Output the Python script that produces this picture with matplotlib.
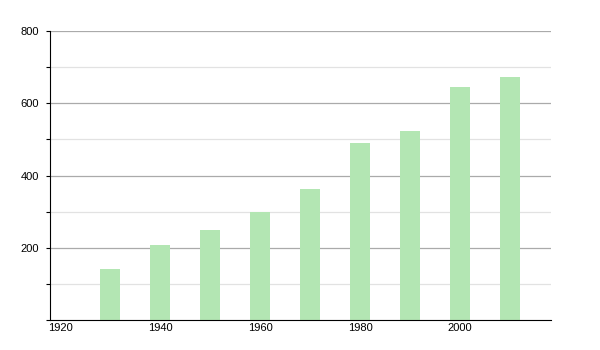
import matplotlib
matplotlib.use("Agg")
import matplotlib.pyplot as plt
from matplotlib.ticker import MultipleLocator

years = [1930, 1940, 1950, 1960, 1970, 1980, 1990, 2000, 2010]
values = [140, 208, 250, 300, 362, 490, 522, 645, 672]
xticks = [1920, 1940, 1960, 1980, 2000]
yticks = [200, 400, 600, 800]

plt.rcParams['font.family'] = ['Liberation Sans', 'DejaVu Sans']
fig = plt.figure(figsize=(6, 3.5), dpi=100)
ax = fig.add_axes([50/600, 30/350, 501/600, 289/350])

ax.set_xlim(1918, 2018.2)
ax.set_ylim(0, 800)
ax.yaxis.set_minor_locator(MultipleLocator(100))
ax.set_yticks(yticks)
ax.set_xticks(xticks)
ax.grid(axis='y', which='major', color='#aaaaaa', linewidth=0.9)
ax.grid(axis='y', which='minor', color='#e2e2e2', linewidth=0.9)
ax.set_axisbelow(True)
ax.bar(years, values, width=4, color='#b3e6b3', zorder=2)

for s in ['top', 'right']:
    ax.spines[s].set_visible(False)
ax.spines['left'].set_color('black')
ax.spines['bottom'].set_color('black')
ax.tick_params(axis='y', which='major', length=3, width=0.8, labelsize=8, pad=5)
ax.tick_params(axis='y', which='minor', length=3, width=0.8)
ax.tick_params(axis='x', length=0, labelsize=8, pad=2)

fig.savefig('out.png', dpi=100)
